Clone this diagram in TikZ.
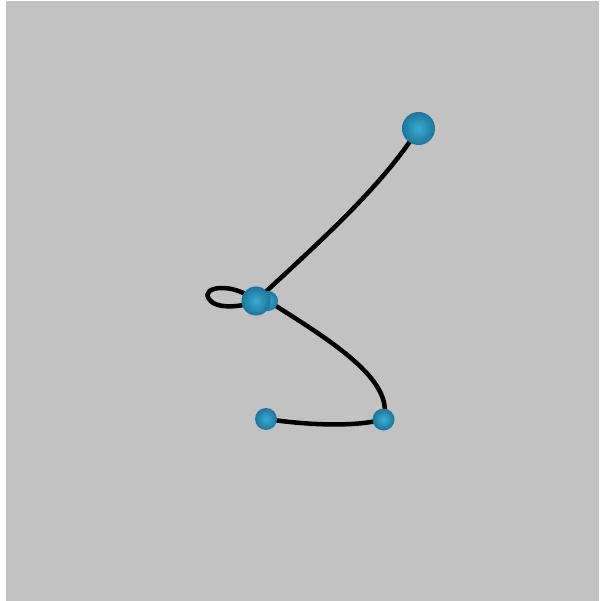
\documentclass[tikz,border=0pt]{standalone}
\usepackage{tikz}
\definecolor{bgray}{RGB}{194,194,194}
\definecolor{ballhi}{RGB}{56,172,212}
\definecolor{balllo}{RGB}{28,118,154}
\pgfdeclarelayer{bg}
\pgfdeclarelayer{wires}
\pgfsetlayers{bg,wires,main}

\begin{document}
\begin{tikzpicture}[x=1pt,y=-1pt,
  ball/.style={circle, draw=none, inner sep=0pt, shade, inner color=ballhi, outer color=balllo},
  wire/.style={line width=4.5pt, black, line cap=round}]
\useasboundingbox (0,0) rectangle (599,601);
\begin{pgfonlayer}{bg}
\fill[bgray] (6,1) rectangle (599,601);
\end{pgfonlayer}
\node[ball, minimum size=33pt] (T)  at (418.5,128.5) {};
\node[ball, minimum size=20pt] (MB) at (268,301) {};
\node[ball, minimum size=29pt] (M)  at (256,301) {};
\node[ball, minimum size=22pt] (BR) at (383.5,419.5) {};
\node[ball, minimum size=22pt] (BL) at (266,419) {};
\begin{pgfonlayer}{wires}
\draw[wire] (T.center) .. controls (380,190) and (310,250) .. (M.center);
\draw[wire] (M.center) .. controls (232,281) and (200,287) .. (209,299)
  .. controls (215,309) and (240,308) .. (M.center);
\draw[wire] (MB.center) .. controls (330,340) and (395,380) .. (BR.center);
\draw[wire] (BR.center) .. controls (350,428) and (300,424) .. (BL.center);
\end{pgfonlayer}
\end{tikzpicture}
\end{document}
